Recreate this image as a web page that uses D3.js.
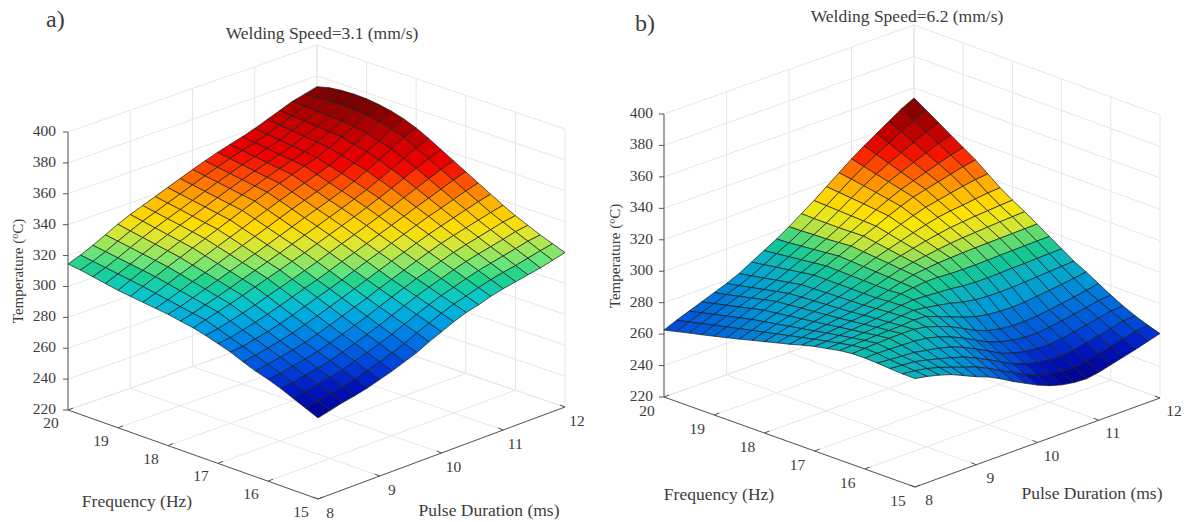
<!DOCTYPE html>
<html>
<head>
<meta charset="utf-8">
<script src="https://cdn.jsdelivr.net/npm/d3@7"></script>
<style>
  body { margin: 0; background: #fff; }
  text { font-family: "Liberation Serif", serif; fill: #3c3c3c; }
</style>
</head>
<body>
<div id="chart"></div>
<script>
const tempTicks = [220, 240, 260, 280, 300, 320, 340, 360, 380, 400];
const freqTicks = [20, 19, 18, 17, 16, 15];
const pulseTicks = [8, 9, 10, 11, 12];

// rows run from 20 Hz to 15 Hz, columns from 8 ms to 12 ms
const tempA = [
  [314.5,317.5,321,325,329,332.5,335.5,338.5,341.5,344.5,347.5,350.3,353,355.3,357.5,360,363,366,369,371,373],
  [313.5,316.3,319.8,323.7,327.5,331,334,337.1,340.1,343.2,346.2,349,351.8,354.2,356.5,359,362.1,365.3,368.6,371.5,375],
  [312,315.1,318.6,322.4,326.1,329.5,332.6,335.7,338.7,341.8,344.9,347.7,350.5,353,355.4,358,361.2,364.6,368.2,372,376],
  [310.5,313.9,317.4,321.1,324.6,328,331.2,334.2,337.4,340.5,343.6,346.5,349.2,351.8,354.2,357,360.3,363.9,367.8,372.2,376.3],
  [309,312.7,316.2,319.8,323.2,326.5,329.7,332.8,336,339.1,342.3,345.2,348,350.7,353.3,356,359.4,363.2,367.4,372,376],
  [308,311.5,315,318.5,321.7,325,328.2,331.4,334.6,337.8,341,344,346.8,349.6,352.3,355,358.5,362.5,366.5,371,375],
  [307,310,313.3,316.6,319.6,322.8,325.9,329,332,335.2,338.3,341.3,344.1,346.9,349.7,352.5,356.3,360.5,364.7,369.5,373.5],
  [306,308.6,311.6,314.7,317.6,320.6,323.6,326.5,329.5,332.5,335.6,338.6,341.4,344.2,347.1,350.2,354.1,358.5,362.5,367.5,371.2],
  [305,307.1,309.9,312.7,315.5,318.4,321.2,324,326.9,329.9,332.8,335.8,338.6,341.4,344.5,347.8,351.8,356,360.2,364.8,368],
  [303.5,305.6,308.2,310.7,313.4,316.2,318.9,321.6,324.4,327.3,330.2,333.1,336,338.9,342,345.2,348.9,352.8,356.8,360.8,364],
  [302,304.2,306.5,308.8,311.3,314,316.6,319.2,321.8,324.6,327.5,330.4,333.3,336.2,339.3,342.5,346,349.5,353,356.5,359.5],
  [300,301.4,303.5,305.7,308,310.8,313.4,316,318.7,321.5,324.5,327.4,330.3,333.3,336.3,339.4,342.6,345.8,349,352.2,355],
  [297.5,298.5,300.5,302.6,304.9,307.5,310.2,313,315.6,318.5,321.5,324.4,327.4,330.3,333.3,336.3,339.3,342.2,345.1,348,350.5],
  [295,295.7,297.6,299.4,301.6,304.2,307,309.8,312.5,315.4,318.5,321.5,324.4,327.4,330.3,333.2,336,338.5,341.1,343.7,346],
  [291.5,292.8,294.6,296.3,298.4,301,303.7,306.6,309.4,312.4,315.5,318.5,321.5,324.4,327.3,330.1,332.6,334.9,337.2,339.5,341.5],
  [288.5,290,291.6,293.2,295.2,297.7,300.5,303.4,306.3,309.3,312.5,315.5,318.5,321.5,324.3,327,329.2,331.2,333.2,335.2,337],
  [286,286.9,288.6,290.2,292.2,294.7,297.4,300.3,303.2,306.4,309.7,312.8,315.8,318.6,321.3,323.9,326,327.9,329.8,331.8,333],
  [283,283.8,285.6,287.1,289.1,291.6,294.3,297.2,300.2,303.6,306.9,310.1,313.1,315.7,318.4,320.8,322.7,324.5,326.3,328.3,329.5],
  [279.5,280.7,282.5,284.1,286.1,288.6,291.2,294.2,297.1,300.7,304.1,307.4,310.4,312.8,315.4,317.7,319.5,321.2,323,324.9,326],
  [276,277.6,279.5,281,283,285.5,288.1,291,294,297.9,301.3,304.7,307.7,309.9,312.4,314.6,316.3,317.8,319.6,321.4,323],
  [272.5,274.5,276.5,278,280,282.5,285,288,291,295,298.5,302,305,307,309.5,311.5,313,314.5,316,318,320]
];

const tempB = [
  [262.6,266,269,272,275,278,281.5,286,290.5,295,300,305.5,311,317,323,329,334.5,339.5,344.5,349.5,353.6],
  [264.5,267.8,270.8,273.8,276.7,279.6,283,287.2,291.4,295.5,300.2,305.2,310.6,316.2,321.8,327,331.8,336.2,340.6,345,348.6],
  [266.4,269.6,272.6,275.6,278.5,281.2,284.4,288.4,292.3,296.2,300.6,305.2,310.2,315.4,320.4,325,329.1,332.9,336.7,340.5,343.6],
  [268.2,271.4,274.4,277.4,280.2,282.8,285.9,289.6,293.2,296.9,300.8,305.1,309.8,314.6,319,323,326.4,329.6,332.8,336,338.5],
  [270.1,273.2,276.2,279.2,282,284.4,287.3,290.8,294.1,297.7,301.4,305.3,309.4,313.7,317.5,321,323.7,326.3,328.9,331.5,333.5],
  [272,275,278,281,283.7,286,288.8,292,295,298.5,302,305.5,309,312.7,316,319,321,323,325,327,328.5],
  [274,276.7,279.4,282,284.4,286.5,289,292,294.8,298,301.2,304.2,307.2,310.2,312.9,315.4,317,318.7,320.3,321.6,322.5],
  [276.1,278.4,280.8,283.1,285.2,287,289.3,291.9,294.5,297.5,300.4,302.9,305.3,307.7,309.9,311.8,313.1,313.9,315,316,316.5],
  [278.1,280.2,282.2,284.1,285.9,287.5,289.5,291.9,294.3,297,299.6,301.6,303.5,305.3,306.8,308.2,309,309.8,310.4,311,311.5],
  [280.2,281.9,283.6,285.2,286.7,288,289.8,291.8,294,296.5,298.8,300.3,301.6,302.8,303.8,304.6,305.1,305.7,306.2,306.6,307],
  [282.2,283.6,285,286.2,287.4,288.5,290,291.8,293.8,296,298,299,299.8,300.3,300.7,301,301.2,301.4,301.6,301.8,302],
  [284.5,285.4,286.5,287.4,288.4,289.3,290.7,292.5,294.5,295.5,296.5,296.5,296,295.8,295.8,296,296.3,296.5,296.7,296.9,297],
  [286.5,287,287.8,288.5,289.2,290,291.3,292.8,293.5,293,292.5,292,291,290.5,290.5,290.7,291,291.2,291.5,291.8,292],
  [288,288.6,289.2,289.6,290.2,290.6,291.8,292.5,291.5,290,288.5,286.5,285,284.5,284.3,284.5,285,285.5,286,286.5,287],
  [289.6,290,290.4,290.7,291,291.3,292,291.5,288.5,285.5,282.5,280,278.5,277.8,277.5,278,278.8,279.7,280.7,281.8,283],
  [290.5,291,291.4,291.7,291.9,291.8,290.5,288,285,281,277,274,272.3,271.5,271.3,272,273,274.2,275.5,277,278.5],
  [290.6,290.7,290.5,290.2,289.9,289,287,284.2,280.7,276.5,272.5,269.7,267.9,267,266.8,267.7,268.9,270.3,271.7,273.4,274],
  [290.2,289.6,289,288.5,287,285.5,283.5,280.4,276.6,272.5,268.2,265.4,263.6,262.7,262.4,263.4,264.8,266.3,267.9,269.7,270],
  [289.6,288.9,288.3,286.5,284.5,282.3,280,276.6,272.6,268.5,264.3,261.4,259.4,258.3,258,259.1,260.7,262.4,264.1,266.1,266.5],
  [289.1,288.2,286.8,284.7,282,279.2,276.5,272.8,268.5,264.5,260.4,257.3,255.2,254,253.6,254.8,256.6,258.4,260.3,262.4,263.5],
  [289,287.5,285.5,283,279.5,276,273,269,264.5,260.5,256.5,253.3,251,249.7,249.2,250.5,252.5,254.5,256.5,258.8,261]
];

const colorTempA = [272.5,281,288,296,303.7,309.6,315,319,327,332,338.5,343,348,353.5,360,368,376];
const colorHexA = ["#00008c","#0014be","#0046dc","#0078e6","#00aae1","#0ac8c8","#1ed28c","#6ee678","#dce632","#ffdc00","#ffb400","#ff8200","#ff4600","#f00000","#dc0000","#aa0000","#6e0000"];
const colorTempB = [249,258,264,274,281,289,294,299.5,304,311,320,326,332,339,347,353.6];
const colorHexB = ["#000082","#0014be","#0046d7","#0073dc","#009bd7","#0ab4be","#14c896","#64dc6e","#d2e632","#ffe600","#ffaa00","#ff6400","#fa1400","#c80000","#960000","#6e0000"];

const svg = d3.select("#chart")
    .append("svg")
    .attr("width", 1190)
    .attr("height", 522)
    .style("display", "block");

function drawPanel(p) {
    const g = svg.append("g");

    // floor corners, the floor is skewed so it is mapped bilinear
    const u = d3.scaleLinear().domain([20, 15]).range([0, 1]);
    const v = d3.scaleLinear().domain([8, 12]).range([0, 1]);
    const h = d3.scaleLinear().domain([220, 400]).range([0, p.zHeight]);

    const project = (freq, pulse, temp) => {
        const a = u(freq), b = v(pulse);
        const mix = k => (1 - a) * (1 - b) * p.left[k] + a * (1 - b) * p.front[k]
            + a * b * p.right[k] + (1 - a) * b * p.back[k];
        return [mix(0), mix(1) - h(temp)];
    };

    const line = (a, b, color, width) => g.append("line")
        .attr("x1", a[0]).attr("y1", a[1])
        .attr("x2", b[0]).attr("y2", b[1])
        .attr("stroke", color)
        .attr("stroke-width", width);

    const gridColor = "#e6e6e6";

    // walls and floor grid
    tempTicks.forEach(t => {
        line(project(20, 8, t), project(20, 12, t), gridColor, 1);
        line(project(20, 12, t), project(15, 12, t), gridColor, 1);
    });
    pulseTicks.forEach(q => {
        line(project(20, q, 220), project(20, q, 400), gridColor, 1);
        line(project(20, q, 220), project(15, q, 220), gridColor, 1);
    });
    freqTicks.forEach(f => {
        line(project(f, 12, 220), project(f, 12, 400), gridColor, 1);
        line(project(f, 8, 220), project(f, 12, 220), gridColor, 1);
    });

    // axis lines
    const axisColor = "#555";
    line(project(20, 8, 220), project(20, 8, 400), axisColor, 1);
    line(project(20, 8, 220), project(15, 8, 220), axisColor, 1);
    line(project(15, 8, 220), project(15, 12, 220), axisColor, 1);

    tempTicks.forEach(t => {
        const a = project(20, 8, t);
        line(a, [a[0] - 5, a[1]], axisColor, 1);
        g.append("text")
            .attr("x", p.tempLabelX)
            .attr("y", a[1] + 4)
            .attr("text-anchor", "end")
            .style("font-size", "15.5px")
            .text(t);
    });
    freqTicks.forEach(f => {
        const a = project(f, 8, 220);
        line(a, [a[0] + 5, a[1] - 2], axisColor, 1);
        g.append("text")
            .attr("x", a[0] + p.freqOffset[0])
            .attr("y", a[1] + p.freqOffset[1] + 5)
            .attr("text-anchor", "middle")
            .style("font-size", "15.5px")
            .text(f);
    });
    pulseTicks.forEach(q => {
        const a = project(15, q, 220);
        line(a, [a[0] - 5, a[1] - 2], axisColor, 1);
        g.append("text")
            .attr("x", a[0] + p.pulseOffset[0])
            .attr("y", a[1] + p.pulseOffset[1] + 5)
            .attr("text-anchor", "middle")
            .style("font-size", "15.5px")
            .text(q);
    });

    // surface, painted from the back corner to the front corner
    const rows = d3.range(p.temps.length);
    const cols = d3.range(p.temps[0].length);
    const freqAt = d3.scaleLinear().domain([0, rows.length - 1]).range([20, 15]);
    const pulseAt = d3.scaleLinear().domain([0, cols.length - 1]).range([8, 12]);
    const color = d3.scaleLinear().domain(p.colorTemp).range(p.colorHex).clamp(true);

    const cells = [];
    rows.slice(0, -1).forEach(i => {
        cols.slice(0, -1).reverse().forEach(j => {
            cells.push({i: i, j: j});
        });
    });

    g.selectAll("path.cell")
        .data(cells)
        .enter()
        .append("path")
        .attr("class", "cell")
        .attr("d", d => {
            const c = [[d.i, d.j], [d.i + 1, d.j], [d.i + 1, d.j + 1], [d.i, d.j + 1]];
            return "M" + c.map(k => project(freqAt(k[0]), pulseAt(k[1]), p.temps[k[0]][k[1]]).join(",")).join("L") + "Z";
        })
        .attr("fill", d => color(d3.mean([p.temps[d.i][d.j], p.temps[d.i + 1][d.j], p.temps[d.i + 1][d.j + 1], p.temps[d.i][d.j + 1]])))
        .attr("stroke", "#1c1c1c")
        .attr("stroke-opacity", 0.8)
        .attr("stroke-width", 0.9)
        .attr("stroke-linejoin", "round");

    // titles and axis names
    g.append("text")
        .attr("x", p.title[0]).attr("y", p.title[1])
        .attr("text-anchor", "middle")
        .style("font-size", "17.5px")
        .text(p.titleText);
    g.append("text")
        .attr("x", p.panelLabel[0]).attr("y", p.panelLabel[1])
        .style("font-size", "24px")
        .text(p.panelText);
    g.append("text")
        .attr("x", p.freqName[0]).attr("y", p.freqName[1])
        .attr("text-anchor", "middle")
        .style("font-size", "17.5px")
        .text("Frequency (Hz)");
    g.append("text")
        .attr("x", p.pulseName[0]).attr("y", p.pulseName[1])
        .attr("text-anchor", "middle")
        .style("font-size", "17.5px")
        .text("Pulse Duration (ms)");

    const yLabel = g.append("text")
        .attr("transform", "translate(" + p.tempName[0] + "," + p.tempName[1] + ")rotate(-90)")
        .attr("text-anchor", "middle")
        .style("font-size", "15px");
    yLabel.append("tspan").text("Temperature (");
    yLabel.append("tspan").attr("dy", -5).style("font-size", "10px").text("o");
    yLabel.append("tspan").attr("dy", 5).text("C)");
}

drawPanel({
    temps: tempA, colorTemp: colorTempA, colorHex: colorHexA,
    left: [68, 410], front: [318, 499], right: [565, 407], back: [317, 323], zHeight: 278,
    tempLabelX: 56, freqOffset: [-17, 13], pulseOffset: [12, 14],
    title: [322, 39], titleText: "Welding Speed=3.1 (mm/s)",
    panelLabel: [46, 27], panelText: "a)",
    freqName: [137, 507], pulseName: [489, 516], tempName: [23, 271]
});

drawPanel({
    temps: tempB, colorTemp: colorTempB, colorHex: colorHexB,
    left: [664, 397], front: [915, 487], right: [1160, 398], back: [914, 308], zHeight: 283,
    tempLabelX: 653, freqOffset: [-17, 14], pulseOffset: [14, 13],
    title: [907, 22], titleText: "Welding Speed=6.2 (mm/s)",
    panelLabel: [635, 31], panelText: "b)",
    freqName: [719, 500], pulseName: [1092, 499], tempName: [620, 256]
});
</script>
</body>
</html>
